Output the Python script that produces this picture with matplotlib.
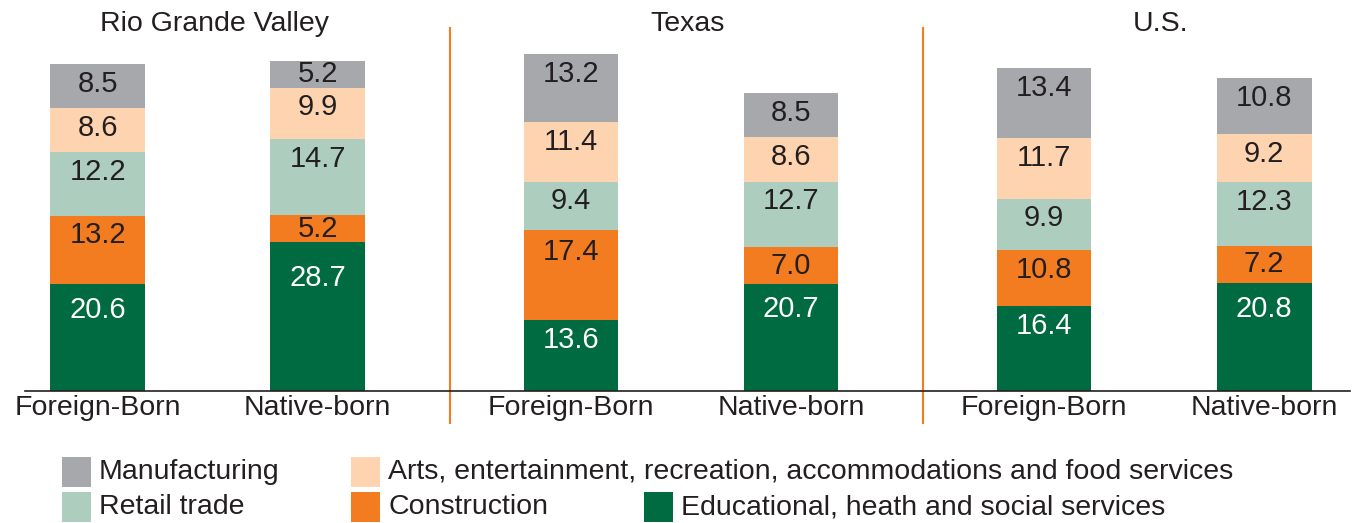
import matplotlib
matplotlib.use("Agg")
from matplotlib import pyplot as plt
from matplotlib.patches import Rectangle

plt.rcParams['font.family'] = ['Liberation Sans', 'DejaVu Sans']

regions = ["Rio Grande Valley", "Texas", "U.S."]
groups = ["Foreign-Born", "Native-born"]

# bottom to top
categories = ["Educational, heath and social services", "Construction", "Retail trade",
              "Arts, entertainment, recreation, accommodations and food services", "Manufacturing"]
education = [20.6, 28.7, 13.6, 20.7, 16.4, 20.8]
construction = [13.2, 5.2, 17.4, 7.0, 10.8, 7.2]
retail = [12.2, 14.7, 9.4, 12.7, 9.9, 12.3]
arts = [8.6, 9.9, 11.4, 8.6, 11.7, 9.2]
manufacturing = [8.5, 5.2, 13.2, 8.5, 13.4, 10.8]

series = [education, construction, retail, arts, manufacturing]
colors = ["#006B40", "#F37B20", "#ADCDBF", "#FDD3B0", "#A7A8AB"]
text_colors = ["white", "#231F20", "#231F20", "#231F20", "#231F20"]
dark = "#231F20"

fig = plt.figure(figsize=(13.67, 5.23), dpi=100)
ax = fig.add_axes([0.0183, 0.2524, 0.9693, 0.694])

gap = 2.15
xs = []
for g in range(len(regions)):
    xs += [g * gap, g * gap + 1]

bottoms = [0.0] * len(xs)
for vals, col, tcol in zip(series, colors, text_colors):
    ax.bar(xs, vals, width=0.43, bottom=bottoms, color=col, linewidth=0)
    for x, b, v in zip(xs, bottoms, vals):
        y = max(b + v / 2, min(b + 0.76 * v, b + v - 3.8))
        ax.text(x, y, f"{v:.1f}", ha="center", va="center", fontsize=21, color=tcol)
    bottoms = [b + v for b, v in zip(bottoms, vals)]

ax.set_xlim(-0.33, 5.69)
ax.set_ylim(0, 70)
for s in ["top", "right", "left"]:
    ax.spines[s].set_visible(False)
ax.spines["bottom"].set_color(dark)
ax.spines["bottom"].set_linewidth(1.2)
ax.set_yticks([])
ax.set_xticks(xs)
ax.set_xticklabels(groups * len(regions), fontsize=20.5, color=dark)
ax.tick_params(axis="x", length=0, pad=3)

for g in range(1, len(regions)):
    ax.axvline(g * gap - 0.55, ymin=-0.088, ymax=1.0,
               color="#F37B20", linewidth=1.5, clip_on=False)

for g, name in enumerate(regions):
    ax.text(g * gap + 0.53, 69.4, name, ha="center", va="baseline", fontsize=20.5, color=dark)

# legend drawn by hand: two rows, uneven columns
legend_items = [("Manufacturing", 4, 62, 472), ("Arts, entertainment, recreation, accommodations and food services", 3, 351, 472),
                ("Retail trade", 2, 62, 507), ("Construction", 1, 351, 507),
                ("Educational, heath and social services", 0, 644, 507)]
W, H = 1367, 523
for label, idx, px, py in legend_items:
    fig.add_artist(Rectangle((px / W, 1 - (py + 15) / H), 29 / W, 30 / H,
                             transform=fig.transFigure, color=colors[idx], linewidth=0))
    fig.text((px + 37) / W, 1 - py / H, label, ha="left", va="center", fontsize=20.5, color=dark)

fig.savefig("out.png", dpi=100)
